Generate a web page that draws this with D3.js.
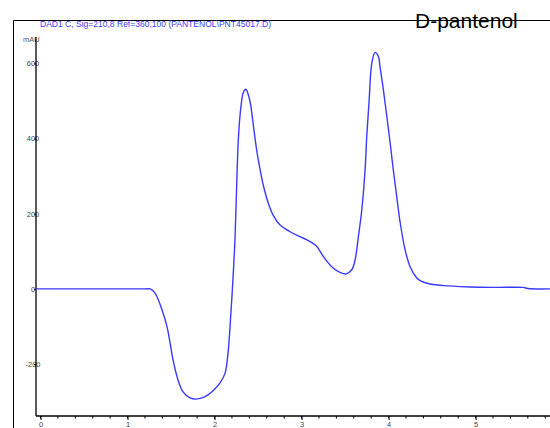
<!DOCTYPE html>
<html>
<head>
<meta charset="utf-8">
<script src="https://cdn.jsdelivr.net/npm/d3@7/dist/d3.min.js"></script>
<style>
  html, body { margin: 0; padding: 0; background: #fff; }
  svg { display: block; }
  text { font-family: "Liberation Sans", Arial, sans-serif; }
</style>
</head>
<body>
<svg id="chart" width="550" height="428"></svg>
<script>
// ---- data ----
const title = "D-pantenol";
const signalLabel = "DAD1 C, Sig=210,8 Ref=360,100 (PANTENOL\\PNT45017.D)";
const yUnit = "mAU";
const xTicks = [0, 1, 2, 3, 4, 5];
const yTicks = [-200, 0, 200, 400, 600];
const times = [-0.05, 0.5, 1.0, 1.2, 1.26, 1.316, 1.397, 1.454, 1.489, 1.523, 1.58, 1.638, 1.718, 1.79, 1.856, 1.925, 2.0, 2.063, 2.121, 2.155, 2.19, 2.213, 2.236, 2.255, 2.274, 2.301, 2.331, 2.359, 2.389, 2.416, 2.446, 2.485, 2.523, 2.561, 2.618, 2.676, 2.753, 2.868, 2.983, 3.098, 3.175, 3.251, 3.347, 3.423, 3.512, 3.577, 3.615, 3.653, 3.692, 3.73, 3.749, 3.776, 3.807, 3.845, 3.883, 3.902, 3.94, 3.979, 4.017, 4.055, 4.094, 4.132, 4.19, 4.247, 4.324, 4.362, 4.477, 4.7, 4.937, 5.25, 5.546, 5.6, 5.855];
const signal = [0, 0, 0, 0, 0, -11, -56, -101, -144, -189, -242, -274, -290, -293, -290, -282, -267, -250, -224, -170, -56, 32, 140, 282, 400, 480, 523, 531, 516, 488, 435, 368, 318, 275, 228, 195, 170, 152, 139, 126, 113, 86, 59, 46, 40, 51, 77, 139, 210, 317, 405, 500, 600, 629, 618, 590, 530, 460, 390, 315, 245, 178, 104, 59, 29, 22, 13, 8, 5, 4, 4, 1, 0];

// ---- layout ----
const svg = d3.select("#chart");
const W = 550, H = 428;
const axX = 36, axTop = 37, axBottom = 416;

const x = d3.scaleLinear().domain([-0.052, 5.855]).range([axX, W]);
const y = d3.scaleLinear().domain([-338, 670]).range([axBottom, axTop]);

// outer frame
svg.append("line").attr("x1", 13.5).attr("x2", 13.5).attr("y1", 20.5).attr("y2", H)
  .attr("stroke", "#000").attr("stroke-width", 1);
svg.append("line").attr("x1", 13.5).attr("x2", W).attr("y1", 20.5).attr("y2", 20.5)
  .attr("stroke", "#000").attr("stroke-width", 1);

// title
svg.append("text").attr("x", 415).attr("y", 27.5).attr("font-size", 21)
  .attr("fill", "#000").text(title);

// signal label
svg.append("text").attr("x", 40).attr("y", 27).attr("font-size", 8.4)
  .attr("fill", "#3c3cff").attr("textLength", 231).attr("lengthAdjust", "spacingAndGlyphs")
  .text(signalLabel);

// y unit
svg.append("text").attr("x", 23).attr("y", 42).attr("font-size", 7.5)
  .attr("fill", "#555").text(yUnit);

// x axis
const xMinor = d3.range(0, 5.85, 0.2);
svg.append("g").selectAll("line").data(xMinor).join("line")
  .attr("x1", d => x(d)).attr("x2", d => x(d))
  .attr("y1", axBottom).attr("y2", axBottom + 2.5)
  .attr("stroke", "#000").attr("stroke-width", 1);
const xa = svg.append("g").attr("transform", `translate(0,${axBottom})`)
  .call(d3.axisBottom(x).tickValues(xTicks).tickSize(4).tickPadding(2).tickFormat(d => String(d)));
xa.select(".domain").remove();
xa.selectAll("line").attr("stroke", "#000");
xa.selectAll("text").attr("font-size", 7.5).attr("fill", "#444")
  .attr("font-family", "Liberation Sans, Arial, sans-serif");
svg.append("line").attr("x1", axX).attr("x2", W).attr("y1", axBottom).attr("y2", axBottom)
  .attr("stroke", "#000").attr("stroke-width", 1.3);

// y axis
const ya = svg.append("g").attr("transform", `translate(${axX},0)`)
  .call(d3.axisLeft(y).tickValues(yTicks).tickSize(2).tickPadding(-1).tickFormat(d => String(d)));
ya.select(".domain").remove();
ya.selectAll("line").attr("stroke", "#000");
ya.selectAll("text").attr("font-size", 7.5).attr("fill", "#444")
  .attr("text-anchor", "middle").attr("dx", -2)
  .attr("font-family", "Liberation Sans, Arial, sans-serif");
svg.append("line").attr("x1", axX).attr("x2", axX).attr("y1", axTop).attr("y2", axBottom)
  .attr("stroke", "#000").attr("stroke-width", 1.3);

// signal line
const pts = times.map((t, i) => [t, signal[i]]);
svg.append("path").datum(pts)
  .attr("fill", "none").attr("stroke", "#3a3aff").attr("stroke-width", 1.4)
  .attr("d", d3.line().x(d => x(d[0])).y(d => y(d[1])).curve(d3.curveCatmullRom.alpha(0.5)));
</script>
</body>
</html>
